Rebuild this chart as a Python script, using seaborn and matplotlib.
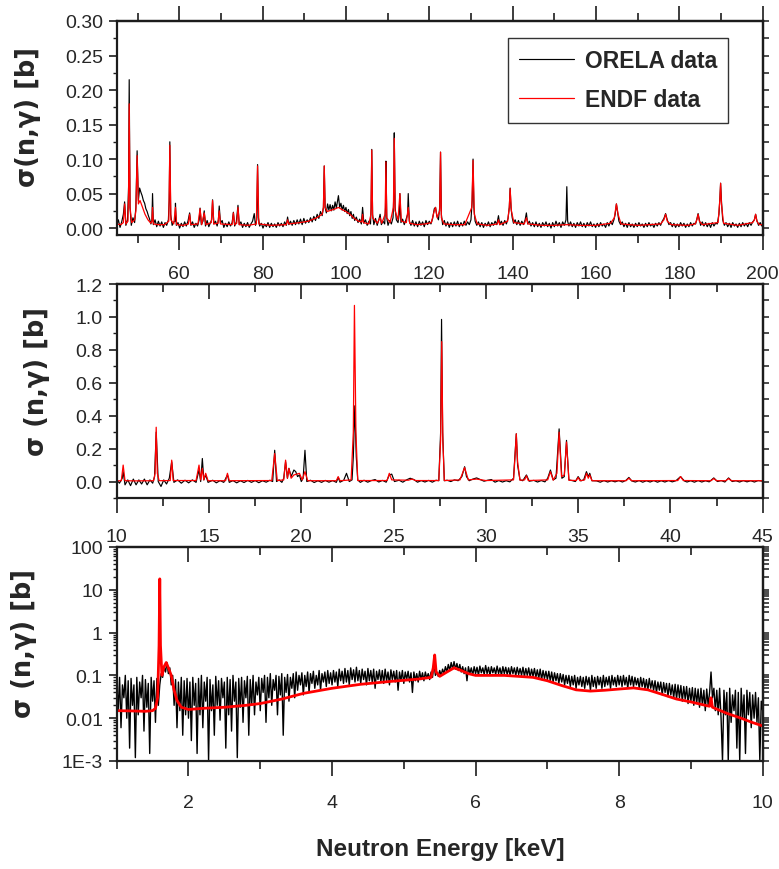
import numpy as np
import pandas as pd
import matplotlib
matplotlib.use("Agg")
import matplotlib.pyplot as plt
import seaborn as sns
from matplotlib import font_manager
from matplotlib.ticker import (MultipleLocator, FormatStrFormatter, FixedLocator,
                               FixedFormatter, LogLocator, NullFormatter)

# ---------------- data (energy keV, sigma barn) ----------------
orela_top = [
(45.0,.004),(45.4,.012),(45.8,.001),(46.2,.009),(46.6,.02),(46.9,.038),(47.2,.004),(47.6,.012),(47.85,.06),(48.0,.215),
(48.2,.03),(48.5,.004),(48.9,.015),(49.3,.008),(49.6,.03),(49.9,.112),(50.2,.04),(50.5,.058),(50.8,.052),(51.1,.047),
(51.4,.04),(51.7,.036),(52.0,.028),(52.3,.024),(52.6,.018),(52.9,.013),(53.2,.006),(53.45,.012),(53.6,.05),(53.8,.005),
(54.2,.012),(54.6,.002),(55.0,.01),(55.4,.003),(55.8,.009),(56.2,.001),(56.6,.008),(57.0,.004),(57.4,.012),(57.6,.04),
(57.75,.125),(57.95,.02),(58.3,.004),(58.7,.009),(59.0,.01),(59.1,.036),(59.3,.004),(59.7,.008),(60.1,.0),(60.5,.007),
(60.9,.002),(61.3,.009),(61.7,.003),(62.1,.01),(62.5,.022),(62.8,.004),(63.2,.009),(63.6,.001),(64.0,.007),(64.4,.003),
(64.8,.012),(65.0,.029),(65.3,.005),(65.7,.01),(66.0,.025),(66.3,.003),(66.7,.011),(67.1,.002),(67.5,.008),(67.8,.012),
(68.0,.041),(68.3,.006),(68.7,.01),(69.1,.003),(69.4,.012),(69.6,.032),(69.9,.007),(70.3,.011),(70.7,.001),(71.1,.007),
(71.5,.002),(71.9,.009),(72.3,.003),(72.7,.008),(73.0,.023),(73.3,.003),(73.7,.009),(74.1,.033),(74.4,.005),(74.8,.009),
(75.2,.001),(75.6,.007),(76.0,.002),(76.4,.008),(76.8,.001),(77.2,.006),(77.6,.01),(78.0,.021),(78.3,.004),(78.6,.012),
(78.8,.092),(79.0,.015),(79.3,.003),(79.7,.007),(80.1,.0),(80.5,.006),(80.9,.002),(81.3,.008),(81.7,.001),(82.1,.007),
(82.5,.002),(82.9,.006),(83.3,.001),(83.7,.008),(84.1,.003),(84.5,.007),(84.9,.002),(85.3,.009),(85.7,.004),(86.0,.016),
(86.3,.005),(86.7,.01),(87.1,.004),(87.5,.011),(87.9,.005),(88.3,.012),(88.7,.006),(89.1,.013),(89.5,.005),(89.9,.014),
(90.3,.007),(90.7,.012),(91.1,.008),(91.5,.015),(91.9,.009),(92.3,.017),(92.7,.011),(93.1,.02),(93.5,.014),(93.9,.024),
(94.3,.018),(94.6,.03),(94.8,.09),(95.0,.03),(95.3,.022),(95.6,.035),(95.9,.026),(96.2,.034),(96.5,.025),(96.8,.033),
(97.1,.026),(97.4,.038),(97.7,.029),(98.0,.04),(98.2,.047),(98.5,.03),(98.8,.036),(99.1,.026),(99.4,.033),(99.7,.024),
(100.0,.03),(100.3,.021),(100.6,.027),(100.9,.018),(101.2,.024),(101.5,.014),(101.8,.02),(102.1,.011),(102.5,.016),(102.9,.008),
(103.3,.013),(103.7,.006),(104.0,.03),(104.3,.007),(104.7,.012),(105.1,.004),(105.5,.01),(105.9,.006),(106.05,.03),(106.2,.114),
(106.4,.02),(106.7,.005),(107.1,.014),(107.5,.004),(107.9,.012),(108.2,.02),(108.5,.005),(108.9,.01),(109.3,.006),(109.5,.03),
(109.6,.097),(109.8,.015),(110.1,.004),(110.5,.011),(110.9,.006),(111.3,.015),(111.5,.05),(111.6,.138),(111.8,.03),(112.1,.012),
(112.5,.008),(112.8,.02),(112.95,.05),(113.2,.008),(113.6,.013),(114.0,.005),(114.4,.012),(114.8,.02),(114.95,.05),(115.2,.01),
(115.6,.004),(116.0,.011),(116.4,.003),(116.8,.009),(117.2,.002),(117.6,.01),(118.0,.004),(118.4,.009),(118.8,.002),(119.2,.011),
(119.6,.005),(120.0,.01),(120.4,.006),(120.8,.014),(121.2,.028),(121.5,.03),(121.8,.018),(122.2,.012),(122.5,.03),(122.7,.11),
(122.9,.02),(123.2,.005),(123.6,.011),(124.0,.003),(124.4,.009),(124.8,.001),(125.2,.008),(125.6,.002),(126.0,.009),(126.4,.003),
(126.8,.01),(127.2,.002),(127.6,.008),(128.0,.003),(128.4,.01),(128.8,.004),(129.2,.009),(129.6,.005),(130.0,.012),(130.3,.04),
(130.5,.1),(130.7,.03),(131.0,.01),(131.4,.004),(131.8,.009),(132.2,.002),(132.6,.008),(133.0,.001),(133.4,.007),(133.8,.003),
(134.2,.009),(134.6,.002),(135.0,.008),(135.4,.004),(135.8,.01),(136.2,.005),(136.6,.018),(136.9,.005),(137.3,.01),(137.7,.004),
(138.1,.011),(138.5,.006),(138.9,.014),(139.2,.03),(139.4,.058),(139.6,.03),(139.9,.015),(140.2,.007),(140.6,.012),(141.0,.005),
(141.4,.011),(141.8,.004),(142.2,.01),(142.6,.005),(143.0,.012),(143.3,.022),(143.6,.006),(144.0,.01),(144.4,.003),(144.8,.008),
(145.2,.002),(145.6,.009),(146.0,.002),(146.4,.007),(146.8,.001),(147.2,.008),(147.6,.003),(148.0,.009),(148.4,.002),(148.8,.007),
(149.2,.0),(149.6,.008),(150.0,.002),(150.4,.01),(150.8,.003),(151.2,.008),(151.6,.001),(152.0,.009),(152.4,.004),(152.8,.012),
(153.0,.06),(153.2,.01),(153.5,.003),(153.9,.009),(154.3,.002),(154.7,.007),(155.1,.001),(155.5,.008),(155.9,.003),(156.3,.009),
(156.7,.002),(157.1,.007),(157.5,.001),(157.9,.008),(158.3,.003),(158.7,.009),(159.1,.002),(159.5,.006),(159.9,.001),(160.3,.007),
(160.7,.002),(161.1,.008),(161.5,.003),(161.9,.006),(162.3,.001),(162.7,.008),(163.1,.003),(163.5,.01),(163.9,.005),(164.3,.012),
(164.6,.02),(164.9,.035),(165.2,.022),(165.5,.01),(165.9,.005),(166.3,.009),(166.7,.002),(167.1,.007),(167.5,.001),(167.9,.008),
(168.3,.002),(168.7,.006),(169.1,.001),(169.5,.007),(169.9,.002),(170.3,.008),(170.7,.003),(171.1,.006),(171.5,.001),(171.9,.007),
(172.3,.002),(172.7,.008),(173.1,.003),(173.5,.006),(173.9,.001),(174.3,.007),(174.7,.003),(175.1,.008),(175.5,.004),(175.9,.01),
(176.3,.014),(176.7,.021),(177.1,.012),(177.5,.005),(177.9,.008),(178.3,.002),(178.7,.007),(179.1,.001),(179.5,.006),(179.9,.002),
(180.3,.008),(180.7,.003),(181.1,.007),(181.5,.001),(181.9,.006),(182.3,.002),(182.7,.008),(183.1,.003),(183.5,.007),(183.9,.006),
(184.2,.013),(184.5,.021),(184.8,.012),(185.1,.004),(185.5,.009),(185.9,.003),(186.3,.008),(186.7,.002),(187.1,.007),(187.5,.001),
(187.9,.008),(188.3,.003),(188.7,.007),(189.1,.006),(189.5,.02),(189.75,.045),(189.9,.065),(190.1,.04),(190.4,.012),(190.8,.004),
(191.2,.008),(191.6,.002),(192.0,.007),(192.4,.001),(192.8,.008),(193.2,.003),(193.6,.006),(194.0,.001),(194.4,.007),(194.8,.002),
(195.2,.008),(195.6,.003),(196.0,.007),(196.4,.002),(196.8,.008),(197.2,.004),(197.6,.009),(198.0,.012),(198.3,.02),(198.6,.011),
(199.0,.004),(199.4,.008),(199.8,.003),(200.0,.006)]

endf_top = [
(45.0,.006),(46.0,.005),(46.6,.008),(46.9,.035),(47.2,.006),(47.7,.01),(47.85,.05),(48.0,.18),(48.2,.03),(48.6,.008),
(49.3,.012),(49.6,.025),(49.9,.105),(50.2,.035),(50.6,.04),(51.2,.03),(51.8,.02),(52.5,.012),(53.2,.007),(53.45,.01),
(53.6,.03),(53.8,.006),(55.0,.005),(56.5,.005),(57.5,.01),(57.75,.12),(58.0,.012),(58.7,.006),(59.1,.03),(59.4,.005),
(61.0,.004),(62.2,.006),(62.5,.02),(62.8,.005),(64.5,.006),(65.0,.028),(65.4,.005),(66.0,.022),(66.4,.005),(67.7,.008),
(68.0,.04),(68.3,.006),(69.3,.007),(69.6,.025),(69.9,.006),(72.7,.005),(73.0,.022),(73.3,.005),(73.8,.007),(74.1,.03),
(74.4,.005),(76.5,.004),(78.5,.006),(78.8,.09),(79.1,.006),(82.0,.004),(85.7,.005),(86.0,.012),(86.3,.006),(89.0,.008),
(91.0,.01),(93.0,.015),(94.3,.02),(94.6,.03),(94.8,.09),(95.0,.03),(95.5,.024),(96.5,.026),(97.5,.028),(98.2,.03),
(99.0,.027),(100.0,.024),(101.0,.02),(102.0,.014),(103.0,.01),(103.8,.009),(104.0,.02),(104.2,.008),(105.5,.006),(106.0,.02),
(106.2,.113),(106.4,.015),(107.5,.007),(108.2,.015),(108.6,.007),(109.4,.02),(109.6,.096),(109.8,.015),(110.6,.008),(111.4,.03),
(111.6,.13),(111.8,.025),(112.5,.012),(112.95,.05),(113.3,.01),(114.5,.008),(114.95,.03),(115.3,.007),(117.0,.005),(119.0,.006),
(120.5,.008),(121.2,.025),(121.5,.03),(121.9,.015),(122.5,.025),(122.7,.11),(122.9,.015),(123.5,.006),(126.0,.005),(128.5,.005),
(130.2,.03),(130.5,.098),(130.8,.02),(131.5,.006),(134.0,.004),(136.3,.006),(136.6,.012),(136.9,.005),(138.8,.01),(139.2,.03),
(139.4,.057),(139.7,.025),(140.3,.008),(142.8,.006),(143.3,.015),(143.7,.006),(147.0,.004),(150.0,.004),(153.0,.005),(156.0,.004),
(160.0,.004),(163.5,.007),(164.4,.015),(164.9,.035),(165.3,.02),(166.0,.006),(170.0,.004),(175.5,.006),(176.3,.012),(176.7,.02),
(177.1,.01),(178.0,.005),(182.0,.004),(183.8,.006),(184.2,.012),(184.5,.02),(184.8,.01),(185.5,.005),(189.3,.008),(189.7,.04),
(189.9,.065),(190.1,.035),(190.6,.007),(194.0,.004),(197.6,.008),(198.0,.012),(198.3,.02),(198.6,.01),(199.2,.005),(200.0,.005)]

orela_mid = [
(10.0,.01),(10.15,-.01),(10.3,.02),(10.35,.06),(10.45,-.02),(10.6,.01),(10.75,-.025),(10.9,.015),(11.05,-.02),(11.2,.01),
(11.35,-.015),(11.5,.015),(11.65,-.02),(11.8,.01),(11.95,-.01),(12.05,.03),(12.14,.3),(12.25,.0),(12.4,-.03),(12.55,.01),
(12.7,-.015),(12.85,.02),(12.98,.12),(13.1,-.005),(13.3,.01),(13.5,-.01),(13.7,.008),(13.9,-.008),(14.1,.01),(14.3,-.005),
(14.46,.07),(14.55,.0),(14.64,.14),(14.72,.01),(14.82,.04),(14.95,-.005),(15.2,.008),(15.4,-.008),(15.6,.006),(15.8,-.005),
(16.0,.04),(16.1,-.005),(16.3,.006),(16.5,-.008),(16.7,.005),(16.9,-.006),(17.1,.007),(17.3,-.005),(17.5,.006),(17.7,-.007),
(17.9,.005),(18.1,-.004),(18.3,.008),(18.45,.0),(18.56,.19),(18.66,.0),(18.8,.01),(18.95,-.005),(19.05,.02),(19.15,.12),
(19.25,.02),(19.33,.08),(19.45,.03),(19.6,.07),(19.7,.06),(19.8,.03),(19.9,.04),(20.0,.0),(20.1,.02),(20.2,.19),
(20.3,.0),(20.5,.008),(20.7,-.006),(20.9,.005),(21.1,-.005),(21.3,.007),(21.5,-.004),(21.7,.006),(21.9,-.005),(22.0,.025),
(22.1,-.004),(22.3,.008),(22.45,.05),(22.6,.0),(22.75,.01),(22.82,.15),(22.9,.46),(22.98,.15),(23.06,.01),(23.2,-.005),
(23.4,.008),(23.6,-.004),(23.8,.006),(24.0,.012),(24.2,-.003),(24.4,.007),(24.6,-.004),(24.77,.04),(24.9,.045),(25.05,.0),
(25.3,.008),(25.5,-.004),(25.7,.01),(25.9,.02),(26.1,.012),(26.3,-.004),(26.5,.006),(26.7,-.003),(26.9,.007),(27.1,-.004),
(27.3,.008),(27.45,.005),(27.55,.3),(27.6,.985),(27.66,.3),(27.75,.005),(27.9,.008),(28.1,.0),(28.3,.01),(28.5,.005),
(28.7,.03),(28.85,.09),(28.95,.03),(29.1,.005),(29.3,.015),(29.5,.022),(29.7,.012),(29.9,.002),(30.1,.008),(30.3,.012),
(30.5,-.004),(30.7,.006),(30.9,-.003),(31.1,.005),(31.3,-.002),(31.5,.02),(31.6,.2),(31.65,.29),(31.72,.1),(31.85,.01),
(32.0,.005),(32.2,.04),(32.35,.002),(32.6,.007),(32.8,-.003),(33.0,.006),(33.2,-.002),(33.35,.02),(33.5,.07),(33.65,.01),
(33.8,.02),(33.97,.32),(34.12,.02),(34.25,.03),(34.37,.25),(34.5,.01),(34.7,.005),(34.85,.0),(35.0,.03),(35.15,.004),
(35.3,.01),(35.45,.06),(35.55,.03),(35.63,.05),(35.75,.005),(36.0,.004),(36.2,-.004),(36.4,.006),(36.6,-.003),(36.8,.005),
(37.0,-.002),(37.2,.006),(37.4,-.003),(37.6,.008),(37.75,.025),(37.9,.004),(38.1,-.003),(38.3,.006),(38.5,-.004),(38.7,.005),
(38.9,-.003),(39.1,.006),(39.3,-.004),(39.5,.005),(39.7,-.003),(39.9,.006),(40.1,-.002),(40.3,.005),(40.55,.03),(40.75,.004),
(40.9,-.003),(41.1,.005),(41.3,-.004),(41.5,.006),(41.7,-.003),(41.9,.005),(42.1,-.002),(42.35,.022),(42.55,.0),(42.75,.006),
(42.95,-.003),(43.15,.022),(43.35,.0),(43.55,.005),(43.75,-.003),(43.95,.006),(44.15,-.002),(44.35,.005),(44.55,-.003),(44.75,.006),
(45.0,.002)]

endf_mid = [
(10.0,.004),(10.25,.005),(10.35,.1),(10.45,.005),(11.0,.004),(12.0,.005),(12.08,.05),(12.14,.33),(12.2,.05),(12.3,.005),
(12.9,.006),(12.98,.13),(13.06,.006),(14.3,.006),(14.46,.1),(14.55,.01),(14.64,.08),(14.72,.01),(14.82,.05),(14.95,.005),
(15.9,.005),(16.0,.05),(16.1,.005),(18.4,.006),(18.56,.17),(18.7,.006),(19.05,.01),(19.15,.13),(19.25,.02),(19.33,.08),
(19.45,.02),(19.6,.04),(19.9,.05),(20.05,.01),(20.2,.06),(20.35,.005),(21.9,.005),(22.0,.03),(22.1,.005),(22.7,.01),
(22.82,.3),(22.88,1.07),(22.96,.3),(23.06,.006),(24.65,.006),(24.77,.05),(24.9,.01),(25.8,.008),(26.0,.015),(26.2,.006),
(27.45,.006),(27.55,.25),(27.61,.85),(27.67,.25),(27.75,.006),(28.6,.01),(28.85,.085),(29.05,.01),(29.5,.015),(30.0,.006),
(31.5,.01),(31.58,.15),(31.65,.29),(31.72,.12),(31.85,.008),(32.1,.01),(32.2,.035),(32.3,.006),(33.35,.01),(33.5,.06),
(33.65,.008),(33.85,.05),(33.97,.3),(34.1,.03),(34.25,.04),(34.37,.24),(34.5,.008),(34.9,.006),(35.0,.025),(35.1,.005),
(35.35,.01),(35.45,.05),(35.55,.02),(35.63,.04),(35.75,.005),(37.6,.005),(37.75,.02),(37.9,.005),(40.4,.006),(40.55,.03),
(40.7,.006),(42.2,.005),(42.35,.018),(42.5,.005),(43.0,.005),(43.15,.018),(43.3,.005),(45.0,.005)]

orela_low = [
(1.00,.07),(1.02,.015),(1.04,.09),(1.06,.006),(1.08,.06),(1.10,.03),(1.12,.1),(1.14,.01),(1.16,.075),(1.18,.002),
(1.20,.085),(1.22,.02),(1.24,.06),(1.26,.0012),(1.28,.09),(1.30,.012),(1.32,.07),(1.34,.03),(1.36,.1),(1.38,.005),
(1.40,.08),(1.42,.018),(1.44,.065),(1.46,.0015),(1.48,.09),(1.50,.025),(1.52,.075),(1.54,.008),(1.56,.085),(1.58,.02),
(1.60,.06),(1.62,.11),(1.64,.09),(1.66,.16),(1.68,.12),(1.70,.2),(1.72,.11),(1.74,.15),(1.76,.06),(1.78,.1),
(1.80,.02),(1.82,.08),(1.84,.006),(1.86,.07),(1.88,.015),(1.90,.09),(1.92,.004),(1.94,.075),(1.96,.012),(1.98,.085),
(2.00,.01),(2.02,.07),(2.04,.003),(2.06,.09),(2.08,.02),(2.10,.065),(2.12,.0015),(2.14,.085),(2.16,.012),(2.18,.1),
(2.20,.006),(2.22,.07),(2.24,.025),(2.26,.09),(2.28,.001),(2.30,.08),(2.32,.015),(2.34,.06),(2.36,.004),(2.38,.095),
(2.40,.02),(2.42,.075),(2.44,.009),(2.46,.085),(2.48,.03),(2.50,.07),(2.52,.002),(2.54,.09),(2.56,.012),(2.58,.08),
(2.60,.005),(2.62,.1),(2.64,.025),(2.66,.07),(2.68,.0012),(2.70,.085),(2.72,.018),(2.74,.09),(2.76,.008),(2.78,.075),
(2.80,.03),(2.82,.095),(2.84,.004),(2.86,.08),(2.88,.02),(2.90,.1),(2.92,.012),(2.94,.07),(2.96,.035),(2.98,.09),
(3.00,.015),(3.02,.085),(3.04,.04),(3.06,.1),(3.08,.008),(3.10,.09),(3.12,.03),(3.14,.11),(3.16,.02),(3.18,.08),
(3.20,.045),(3.22,.1),(3.24,.012),(3.26,.095),(3.28,.035),(3.30,.11),(3.32,.004),(3.34,.09),(3.36,.04),(3.38,.105),
(3.40,.025),(3.42,.09),(3.44,.05),(3.46,.11),(3.48,.03),(3.50,.12),(3.52,.045),(3.54,.1),(3.56,.06),(3.58,.115),
(3.60,.035),(3.62,.1),(3.64,.055),(3.66,.12),(3.68,.04),(3.70,.11),(3.72,.065),(3.74,.125),(3.76,.05),(3.78,.1),
(3.80,.06),(3.82,.13),(3.84,.045),(3.86,.11),(3.88,.07),(3.90,.12),(3.92,.055),(3.94,.13),(3.96,.065),(3.98,.115),
(4.00,.06),(4.02,.13),(4.04,.07),(4.06,.12),(4.08,.055),(4.10,.14),(4.12,.075),(4.14,.125),(4.16,.065),(4.18,.145),
(4.20,.07),(4.22,.13),(4.24,.06),(4.26,.15),(4.28,.08),(4.30,.135),(4.32,.07),(4.34,.155),(4.36,.075),(4.38,.13),
(4.40,.065),(4.42,.14),(4.44,.08),(4.46,.125),(4.48,.06),(4.50,.145),(4.52,.075),(4.54,.13),(4.56,.07),(4.58,.14),
(4.60,.05),(4.62,.125),(4.64,.08),(4.66,.135),(4.68,.07),(4.70,.13),(4.72,.065),(4.74,.14),(4.76,.075),(4.78,.12),
(4.80,.06),(4.82,.135),(4.84,.08),(4.86,.125),(4.88,.07),(4.90,.13),(4.92,.045),(4.94,.12),(4.96,.075),(4.98,.13),
(5.00,.065),(5.02,.12),(5.04,.08),(5.06,.125),(5.08,.07),(5.10,.115),(5.12,.04),(5.14,.12),(5.16,.075),(5.18,.11),
(5.20,.07),(5.22,.125),(5.24,.08),(5.26,.115),(5.28,.075),(5.30,.12),(5.32,.085),(5.34,.11),(5.36,.08),(5.38,.12),
(5.40,.09),(5.42,.2),(5.44,.1),(5.46,.12),(5.48,.095),(5.50,.13),(5.52,.1),(5.54,.14),(5.56,.11),(5.58,.16),
(5.60,.12),(5.62,.18),(5.64,.13),(5.66,.2),(5.68,.14),(5.70,.21),(5.72,.14),(5.74,.19),(5.76,.13),(5.78,.18),
(5.80,.12),(5.82,.16),(5.84,.11),(5.86,.15),(5.88,.075),(5.90,.16),(5.92,.11),(5.94,.15),(5.96,.1),(5.98,.16),
(6.00,.11),(6.02,.155),(6.04,.1),(6.06,.165),(6.08,.115),(6.10,.15),(6.12,.105),(6.14,.17),(6.16,.11),(6.18,.155),
(6.20,.1),(6.22,.16),(6.24,.115),(6.26,.15),(6.28,.105),(6.30,.165),(6.32,.11),(6.34,.15),(6.36,.1),(6.38,.16),
(6.40,.11),(6.42,.155),(6.44,.105),(6.46,.15),(6.48,.1),(6.50,.16),(6.52,.11),(6.54,.15),(6.56,.1),(6.58,.155),
(6.60,.105),(6.62,.145),(6.64,.1),(6.66,.155),(6.68,.095),(6.70,.145),(6.72,.1),(6.74,.15),(6.76,.09),(6.78,.14),
(6.80,.095),(6.82,.145),(6.84,.09),(6.86,.135),(6.88,.085),(6.90,.14),(6.92,.08),(6.94,.13),(6.96,.085),(6.98,.125),
(7.00,.08),(7.02,.125),(7.04,.075),(7.06,.12),(7.08,.07),(7.10,.115),(7.12,.075),(7.14,.11),(7.16,.065),(7.18,.11),
(7.20,.07),(7.22,.105),(7.24,.06),(7.26,.1),(7.28,.065),(7.30,.1),(7.32,.055),(7.34,.095),(7.36,.06),(7.38,.1),
(7.40,.05),(7.42,.09),(7.44,.06),(7.46,.095),(7.48,.055),(7.50,.09),(7.52,.05),(7.54,.095),(7.56,.06),(7.58,.09),
(7.60,.045),(7.62,.1),(7.64,.055),(7.66,.09),(7.68,.05),(7.70,.095),(7.72,.06),(7.74,.09),(7.76,.05),(7.78,.1),
(7.80,.055),(7.82,.09),(7.84,.06),(7.86,.095),(7.88,.05),(7.90,.1),(7.92,.06),(7.94,.09),(7.96,.055),(7.98,.1),
(8.00,.06),(8.02,.095),(8.04,.055),(8.06,.1),(8.08,.06),(8.10,.09),(8.12,.05),(8.14,.1),(8.16,.06),(8.18,.095),
(8.20,.055),(8.22,.09),(8.24,.06),(8.26,.085),(8.28,.05),(8.30,.09),(8.32,.055),(8.34,.085),(8.36,.05),(8.38,.08),
(8.40,.045),(8.42,.085),(8.44,.05),(8.46,.075),(8.48,.045),(8.50,.075),(8.52,.04),(8.54,.07),(8.56,.045),(8.58,.07),
(8.60,.035),(8.62,.068),(8.64,.04),(8.66,.065),(8.68,.032),(8.70,.065),(8.72,.035),(8.74,.06),(8.76,.03),(8.78,.062),
(8.80,.028),(8.82,.06),(8.84,.03),(8.86,.058),(8.88,.025),(8.90,.055),(8.92,.028),(8.94,.055),(8.96,.022),(8.98,.05),
(9.00,.025),(9.02,.052),(9.04,.02),(9.06,.05),(9.08,.022),(9.10,.048),(9.12,.018),(9.14,.05),(9.16,.02),(9.18,.045),
(9.20,.015),(9.22,.048),(9.24,.02),(9.26,.04),(9.28,.12),(9.30,.03),(9.32,.05),(9.34,.015),(9.36,.045),(9.38,.012),
(9.40,.05),(9.42,.01),(9.44,.001),(9.46,.045),(9.48,.012),(9.50,.04),(9.52,.001),(9.54,.05),(9.56,.008),(9.58,.035),
(9.60,.015),(9.62,.045),(9.64,.002),(9.66,.04),(9.68,.001),(9.70,.05),(9.72,.01),(9.74,.035),(9.76,.0015),(9.78,.045),
(9.80,.012),(9.82,.04),(9.84,.006),(9.86,.035),(9.88,.01),(9.90,.04),(9.92,.008),(9.94,.03),(9.96,.001),(9.98,.025),
(10.00,.015)]

endf_low = [
(1.0,.015),(1.2,.0148),(1.4,.0145),(1.5,.015),(1.54,.017),(1.57,.03),(1.59,.5),(1.6,18.0),(1.61,.5),(1.63,.1),
(1.66,.16),(1.69,.2),(1.72,.15),(1.76,.1),(1.8,.045),(1.84,.026),(1.9,.018),(2.0,.016),(2.2,.017),(2.5,.018),
(2.8,.02),(3.0,.022),(3.3,.028),(3.6,.038),(4.0,.05),(4.4,.062),(4.8,.072),(5.2,.082),(5.38,.09),(5.41,.15),
(5.43,.3),(5.45,.12),(5.5,.095),(5.6,.12),(5.7,.15),(5.8,.13),(5.9,.11),(6.0,.1),(6.4,.1),(6.8,.09),
(7.0,.075),(7.2,.058),(7.4,.046),(7.6,.043),(7.8,.045),(8.0,.048),(8.2,.051),(8.4,.046),(8.6,.036),(8.8,.028),
(9.0,.024),(9.2,.02),(9.26,.019),(9.28,.03),(9.3,.018),(9.5,.013),(9.7,.01),(9.85,.008),(10.0,.0066)]

series_labels = ["ORELA data", "ENDF data"]
x_label = "Neutron Energy [keV]"
y_labels = ["σ(n,γ) [b]", "σ (n,γ) [b]", "σ (n,γ) [b]"]
log_tick_values = [1e-3, 1e-2, 1e-1, 1, 10, 100]
log_tick_labels = ["1E-3", "0.01", "0.1", "1", "10", "100"]

# ---------------- style ----------------
sns.set_theme(style="ticks")
names = {f.name for f in font_manager.fontManager.ttflist}
HAS_NARROW = "Liberation Sans Narrow" in names
NARROW = "Liberation Sans Narrow" if HAS_NARROW else "Liberation Sans"
plt.rcParams["font.family"] = [NARROW, "DejaVu Sans"]
TICK_FS = 16.5 if HAS_NARROW else 14
LEG_FS = 19 if HAS_NARROW else 16.5
XLAB_FS = 20 if HAS_NARROW else 17.5
SPINE_C = "#1c1c1c"

W, H = 779, 870
fig = plt.figure(figsize=(W / 100, H / 100), dpi=100)


def rect(top, bottom):
    return [116.7 / W, 1 - bottom / H, 646 / W, (bottom - top) / H]


ax_top = fig.add_axes(rect(22, 236))
ax_mid = fig.add_axes(rect(285, 499))
ax_low = fig.add_axes(rect(548, 762))


def to_df(pairs):
    return pd.DataFrame(pairs, columns=["energy", "sigma"])


def draw(ax, orela, endf, black_lw, red_lw):
    sns.lineplot(data=to_df(orela), x="energy", y="sigma", ax=ax, color="black",
                 lw=black_lw, sort=False, estimator=None, label=series_labels[0], legend=False)
    sns.lineplot(data=to_df(endf), x="energy", y="sigma", ax=ax, color="#ff0000",
                 lw=red_lw, sort=False, estimator=None, label=series_labels[1], legend=False)


draw(ax_top, orela_top, endf_top, 0.85, 0.9)
draw(ax_mid, orela_mid, endf_mid, 0.85, 0.9)
ax_low.set_yscale("log")
draw(ax_low, orela_low, endf_low, 1.0, 2.0)


def style(ax, xlim, ylim, xmaj, xmin, ymaj, ymin, yfmt, top_dir, xpad):
    ax.set_xlim(*xlim)
    ax.set_ylim(*ylim)
    ax.set_xlabel("")
    ax.set_ylabel("")
    for s in ax.spines.values():
        s.set_visible(True)
        s.set_linewidth(1.6)
        s.set_color(SPINE_C)
    ax.xaxis.set_major_locator(xmaj)
    ax.xaxis.set_minor_locator(xmin)
    ax.xaxis.set_major_formatter(FormatStrFormatter("%d"))
    ax.yaxis.set_major_locator(ymaj)
    ax.yaxis.set_minor_locator(ymin)
    ax.yaxis.set_major_formatter(yfmt)
    ax.yaxis.set_minor_formatter(NullFormatter())
    ax.tick_params(axis="x", which="major", direction="out", length=10.5, width=1.2,
                   color=SPINE_C, labelsize=TICK_FS, pad=xpad, top=False)
    ax.tick_params(axis="x", which="minor", direction="out", length=5.5, width=1.2,
                   color=SPINE_C, top=False)
    ax.tick_params(axis="y", which="major", direction="out", length=6, width=1.2,
                   color=SPINE_C, labelsize=TICK_FS, pad=4, right=False)
    ax.tick_params(axis="y", which="minor", direction="out", length=3, width=1.0,
                   color=SPINE_C, right=False)
    sx = ax.secondary_xaxis("top")
    sx.xaxis.set_major_locator(xmaj)
    sx.xaxis.set_minor_locator(xmin)
    sx.xaxis.set_major_formatter(NullFormatter())
    sx.xaxis.set_minor_formatter(NullFormatter())
    sx.tick_params(axis="x", which="major", direction=top_dir, length=10.5, width=1.2, color=SPINE_C)
    sx.tick_params(axis="x", which="minor", direction=top_dir, length=5.5, width=1.2, color=SPINE_C)
    for s in sx.spines.values():
        s.set_linewidth(1.6)
        s.set_color(SPINE_C)
    sy = ax.secondary_yaxis("right")
    sy.yaxis.set_major_locator(ymaj)
    sy.yaxis.set_minor_locator(ymin)
    sy.yaxis.set_major_formatter(NullFormatter())
    sy.yaxis.set_minor_formatter(NullFormatter())
    sy.tick_params(axis="y", which="both", direction="out", length=4, width=1.1, color=SPINE_C)
    for s in sy.spines.values():
        s.set_linewidth(1.6)
        s.set_color(SPINE_C)


style(ax_top, (45, 200), (-0.01, 0.30), MultipleLocator(20), MultipleLocator(10),
      MultipleLocator(0.05), MultipleLocator(0.025), FormatStrFormatter("%.2f"), "out", 11)
style(ax_mid, (10, 45), (-0.1, 1.2), MultipleLocator(5), MultipleLocator(2.5),
      MultipleLocator(0.2), MultipleLocator(0.1), FormatStrFormatter("%.1f"), "in", 11)
style(ax_low, (1, 10), (1e-3, 100), MultipleLocator(2), MultipleLocator(1),
      FixedLocator(log_tick_values), LogLocator(base=10, subs=np.arange(2, 10), numticks=20),
      FixedFormatter(log_tick_labels), "in", 13)

# y labels
ylab_kw = dict(fontsize=18.5, fontweight="bold", family=["DejaVu Sans"], va="center", ha="center")
for ax, lab, xy in [(ax_top, y_labels[0], (-0.137, 0.556)),
                    (ax_mid, y_labels[1], (-0.123, 0.547)),
                    (ax_low, y_labels[2], (-0.144, 0.556))]:
    ax.set_ylabel(lab, **ylab_kw)
    ax.yaxis.set_label_coords(*xy)

# x label
fig.text(440 / W, 1 - 850 / H, x_label, ha="center", va="center",
         fontsize=XLAB_FS, fontweight="bold", family=[NARROW, "DejaVu Sans"])

# legend
handles, labels = ax_top.get_legend_handles_labels()
leg = ax_top.legend(handles, labels, loc="upper right", bbox_to_anchor=(0.947, 0.921),
                    borderaxespad=0, frameon=True, fancybox=False, framealpha=1,
                    edgecolor="#333333", handlelength=2.4, handletextpad=0.45,
                    borderpad=0.5, labelspacing=0.7,
                    prop=dict(family=[NARROW, "DejaVu Sans"], weight="bold", size=LEG_FS))
leg.get_frame().set_linewidth(1.0)

fig.savefig("out.png", dpi=100)
